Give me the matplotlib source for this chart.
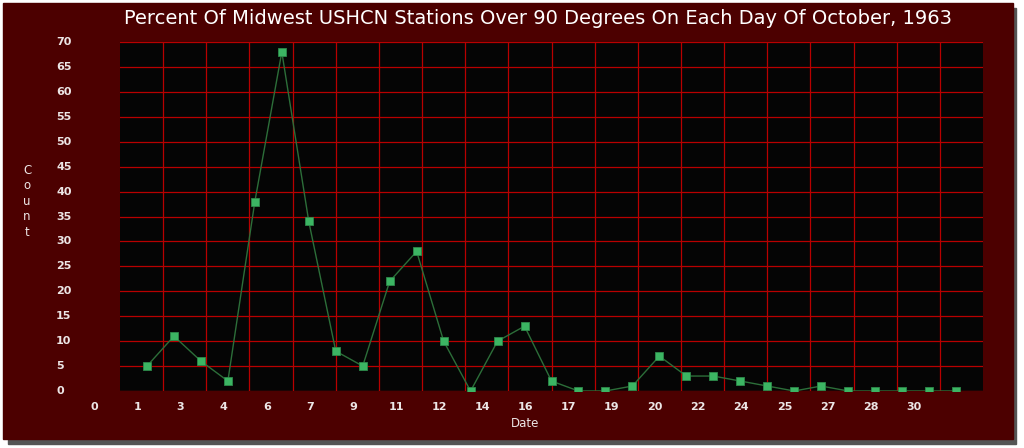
import matplotlib.pyplot as plt
from matplotlib.patches import Rectangle

# 每日超过90度的站点百分比（1963年10月）
days = list(range(1, 32))
counts = [5, 11, 6, 2, 38, 68, 34, 8, 5, 22, 28, 10, 0, 10, 13, 2, 0, 0, 1, 7,
          3, 3, 2, 1, 0, 1, 0, 0, 0, 0, 0]
x_tick_labels = ['0', '1', '3', '4', '6', '7', '9', '11', '12', '14', '16', '17',
                 '19', '20', '22', '24', '25', '27', '28', '30']
y_ticks = list(range(0, 75, 5))
title = 'Percent Of Midwest USHCN Stations Over 90 Degrees On Each Day Of October, 1963'

W, H = 1024, 448
panel = '#4c0000'
grid_red = '#b80000'
txt = '#ece6e6'

fig = plt.figure(figsize=(W / 100, H / 100), dpi=100, facecolor='white')

# 外框阴影和深红色面板
fig.patches.append(Rectangle((8 / W, 1 - 444 / H), 1008 / W, 436 / H,
                             transform=fig.transFigure, color='#555555', zorder=-2))
fig.patches.append(Rectangle((3 / W, 1 - 439 / H), 1010 / W, 436 / H,
                             transform=fig.transFigure, color=panel, zorder=-1))

ax = fig.add_axes([120 / W, 1 - 391 / H, 863 / W, 349 / H])
ax.set_zorder(2)
ax.set_facecolor('#050505')
ax.plot(days, counts, color='#2c6e39', lw=1, marker='s', ms=6,
        markerfacecolor='#3cb563', markeredgecolor='#2d8a4a', markeredgewidth=0.6,
        zorder=3)

step = 1.6
ax.set_xlim(0, 32)
ax.set_ylim(0, 70)
ax.set_xticks([step * k for k in range(1, 20)])
ax.set_yticks(y_ticks)
ax.set_xticklabels([])
ax.set_yticklabels([])
ax.tick_params(length=0)
ax.grid(True, color=grid_red, lw=0.9)
ax.set_axisbelow(True)
for s in ax.spines.values():
    s.set_visible(False)

# x轴标签：位置相对网格线向左偏移
trans_x = ax.get_xaxis_transform()
for k, lab in enumerate(x_tick_labels):
    ax.text(step * k - 0.96, -0.045, lab, transform=trans_x, ha='center', va='center',
            color=txt, fontsize=8, fontweight='bold', clip_on=False)

trans_y = ax.get_yaxis_transform()
for v in y_ticks:
    ax.text(-0.074, v, str(v), transform=trans_y, ha='left', va='center',
            color=txt, fontsize=8, fontweight='bold', clip_on=False)

fig.text(525 / W, 1 - 423 / H, 'Date', ha='center', va='center', color=txt, fontsize=8.5)
fig.text(27 / W, 1 - 201 / H, 'C\no\nu\nn\nt', ha='center', va='center', color=txt,
         fontsize=8.5, linespacing=1.25)
fig.text(538 / W, 1 - 18 / H, title, ha='center', va='center', color='white', fontsize=14)

plt.savefig('out.png', dpi=100, facecolor=fig.get_facecolor())
